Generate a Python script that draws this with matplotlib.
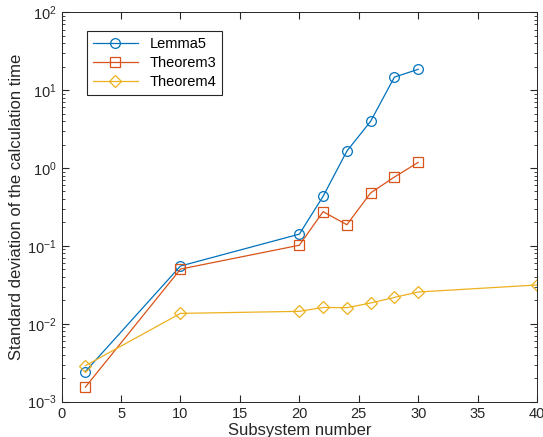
import matplotlib.pyplot as plt
import numpy as np

plt.rcParams['font.family'] = ['Liberation Sans', 'DejaVu Sans']
plt.rcParams['mathtext.fontset'] = 'custom'
plt.rcParams['mathtext.rm'] = 'Liberation Sans'

# subsystem numbers
x_lemma = [2, 10, 20, 22, 24, 26, 28, 30]
x_thm3 = [2, 10, 20, 22, 24, 26, 28, 30]
x_thm4 = [2, 10, 20, 22, 24, 26, 28, 30, 40]

# standard deviation of the calculation time
lemma5 = [0.00244, 0.0552, 0.1416, 0.433, 1.65, 3.98, 14.7, 18.5]
theorem3 = [0.00154, 0.0504, 0.102, 0.275, 0.187, 0.479, 0.766, 1.18]
theorem4 = [0.0029, 0.0136, 0.01445, 0.0162, 0.0161, 0.0185, 0.0218, 0.0256, 0.0315]

c1 = (0, 0.447, 0.741)
c2 = (0.85, 0.325, 0.098)
c3 = (0.929, 0.694, 0.125)

fig = plt.figure(figsize=(5.43, 4.37), dpi=100)
ax = fig.add_axes([0.1135, 0.0808, 0.8755, 0.8912])

ax.plot(x_lemma, lemma5, '-o', color=c1, lw=0.9, ms=7, mfc='none', mew=0.9, label='Lemma5')
ax.plot(x_thm3, theorem3, '-s', color=c2, lw=0.9, ms=7, mfc='none', mew=0.9, label='Theorem3')
ax.plot(x_thm4, theorem4, '-D', color=c3, lw=0.9, ms=6.5, mfc='none', mew=0.9, label='Theorem4')

ax.set_yscale('log')
ax.set_xlim(0, 40)
ax.set_ylim(1e-3, 1e2)
ax.set_xticks(np.arange(0, 41, 5))
ax.tick_params(which='both', direction='in', top=True, right=True, labelsize=10.5, colors='#262626')
ax.tick_params(which='major', length=5)
ax.tick_params(which='minor', length=2.5)
for s in ax.spines.values():
    s.set_color('#262626')
    s.set_linewidth(0.7)

ax.set_xlabel('Subsystem number', fontsize=12, color='#262626', labelpad=2)
ax.set_ylabel('Standard deviation of the calculation time', fontsize=12, color='#262626', labelpad=2)

leg = ax.legend(loc='upper left', bbox_to_anchor=(0.038, 0.971), fancybox=False, edgecolor='#262626',
                framealpha=1, fontsize=10.5, handlelength=3.1, borderpad=0.4, labelspacing=0.35)
leg.get_frame().set_linewidth(0.8)

fig.savefig('out.png', dpi=100)
